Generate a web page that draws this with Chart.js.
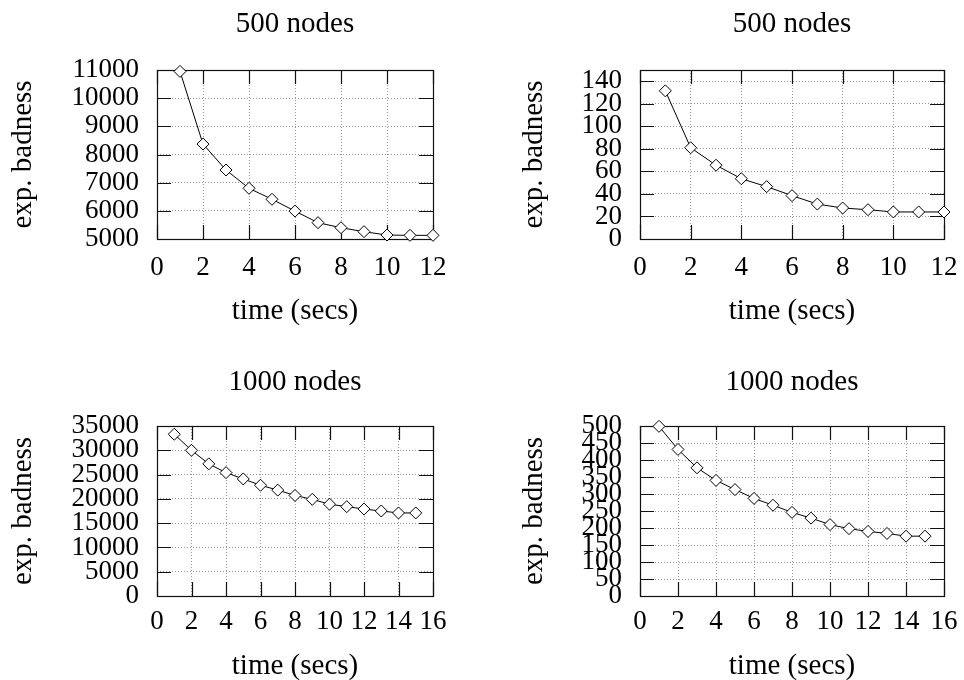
<!DOCTYPE html>
<html>
<head>
<meta charset="utf-8">
<script src="https://cdn.jsdelivr.net/npm/chart.js@4.4.0/dist/chart.umd.min.js"></script>
<style>
  body { margin: 0; background: #fff; width: 964px; height: 680px; overflow: hidden; position: relative; }
  canvas { position: absolute; }
</style>
</head>
<body>
<canvas id="c1" width="482" height="340" style="left:0;top:0"></canvas>
<canvas id="c2" width="482" height="340" style="left:482px;top:0"></canvas>
<canvas id="c3" width="482" height="340" style="left:0;top:340px"></canvas>
<canvas id="c4" width="482" height="340" style="left:482px;top:340px"></canvas>
<script>
// data
const times500 = [1, 2, 3, 4, 5, 6, 7, 8, 9, 10, 11, 12];
const times1000 = [1, 2, 3, 4, 5, 6, 7, 8, 9, 10, 11, 12, 13, 14, 15];

const badness500a = [10950, 8370, 7450, 6800, 6410, 5990, 5580, 5400, 5260, 5140, 5130, 5130];
const badness500b = [131.5, 81, 65.5, 53.5, 46.5, 38.5, 31, 27.5, 26, 24, 24, 24];
const badness1000a = [33300, 30000, 27200, 25400, 24100, 22800, 21800, 20700, 19900, 18900, 18400, 17900, 17500, 17100, 17100];
const badness1000b = [499, 431, 377, 340, 313, 287, 267, 246, 229, 210, 198, 190, 184, 176, 176];

const xTicks500 = [0, 2, 4, 6, 8, 10, 12];
const xTicks1000 = [0, 2, 4, 6, 8, 10, 12, 14, 16];
const yTicks500a = [5000, 6000, 7000, 8000, 9000, 10000, 11000];
const yTicks500b = [0, 20, 40, 60, 80, 100, 120, 140];
const yTicks1000a = [0, 5000, 10000, 15000, 20000, 25000, 30000, 35000];
const yTicks1000b = [0, 50, 100, 150, 200, 250, 300, 350, 400, 450, 500];

const F = "'Liberation Serif', 'DejaVu Serif', serif";
const TICK_LEN = 14;

// box round the plot with gnuplot-style inward tick marks
const framePlugin = {
  id: 'frame',
  beforeDatasetsDraw(chart) {
    const { ctx, chartArea: a, scales: { x, y } } = chart;
    ctx.save();
    ctx.strokeStyle = '#111';
    ctx.lineWidth = 1.2;
    ctx.beginPath();
    x.ticks.forEach(t => {
      const px = Math.round(x.getPixelForValue(t.value)) + 0.5;
      ctx.moveTo(px, a.bottom); ctx.lineTo(px, a.bottom - TICK_LEN);
      ctx.moveTo(px, a.top); ctx.lineTo(px, a.top + TICK_LEN);
    });
    y.ticks.forEach(t => {
      const py = Math.round(y.getPixelForValue(t.value)) + 0.5;
      ctx.moveTo(a.left, py); ctx.lineTo(a.left + TICK_LEN, py);
      ctx.moveTo(a.right, py); ctx.lineTo(a.right - TICK_LEN, py);
    });
    ctx.stroke();
    ctx.strokeRect(Math.round(a.left) + 0.5, Math.round(a.top) + 0.5, Math.round(a.width), Math.round(a.height));
    ctx.restore();
  }
};

function makeChart(id, title, xs, ys, xTicks, yTicks, xMax, yMin, yMax, lay) {
  const font = { family: F, size: 27, weight: 'normal', lineHeight: 1.2 };
  const titleFont = { family: F, size: 29, weight: 'normal', lineHeight: 1 };
  return new Chart(document.getElementById(id), {
    type: 'line',
    data: {
      datasets: [{
        data: xs.map((v, i) => ({ x: v, y: ys[i] })),
        clip: false,
        borderColor: '#000',
        borderWidth: 1,
        pointStyle: 'rectRot',
        pointRadius: 6,
        pointBackgroundColor: '#fff',
        pointBorderColor: '#000',
        pointBorderWidth: 1,
        tension: 0,
        fill: false
      }]
    },
    options: {
      responsive: false,
      animation: false,
      layout: { padding: { left: 0, right: lay.right, top: 0, bottom: 0 } },
      plugins: {
        legend: { display: false },
        tooltip: { enabled: false },
        title: {
          display: true, fullSize: false, text: title, color: '#000', font: titleFont,
          padding: { top: lay.titleTop, bottom: lay.titleBottom }
        }
      },
      scales: {
        x: {
          type: 'linear', min: 0, max: xMax,
          afterBuildTicks: s => { s.ticks = xTicks.map(v => ({ value: v })); },
          afterFit: s => { s.height = lay.xh; s.paddingLeft = 0; s.paddingRight = 0; },
          grid: { color: '#999', lineWidth: 1, drawTicks: false },
          border: { display: false, dash: [1, 2] },
          ticks: { autoSkip: false, maxRotation: 0, padding: lay.xtp, color: '#000', font: font, callback: v => v },
          title: { display: true, text: 'time (secs)', color: '#000', font: titleFont, padding: { top: 0, bottom: lay.xtb } }
        },
        y: {
          type: 'linear', min: yMin, max: yMax,
          afterBuildTicks: s => { s.ticks = yTicks.map(v => ({ value: v })); },
          afterFit: s => { s.width = lay.yw; s.paddingTop = 0; s.paddingBottom = 0; },
          grid: { color: '#999', lineWidth: 1, drawTicks: false },
          border: { display: false, dash: [1, 2] },
          ticks: { autoSkip: false, padding: 18, color: '#000', font: font, callback: v => v },
          title: { display: true, text: 'exp. badness', color: '#000', font: titleFont, padding: { top: lay.ytp, bottom: 0 } }
        }
      }
    },
    plugins: [framePlugin]
  });
}

const layTopL = { right: 49, titleTop: 9.5, titleBottom: 31.5, xh: 101, xtp: 13, xtb: 14.5, yw: 157, ytp: 8.5 };
const layTopR = { right: 20, titleTop: 9.5, titleBottom: 31.5, xh: 101, xtp: 13, xtb: 14.5, yw: 158, ytp: 37.5 };
const layBotL = { right: 49, titleTop: 27.5, titleBottom: 29.5, xh: 84, xtp: 10, xtb: -1, yw: 157, ytp: 8.5 };
const layBotR = { right: 20, titleTop: 27.5, titleBottom: 29.5, xh: 84, xtp: 10, xtb: -1, yw: 158, ytp: 37.5 };

makeChart('c1', '500 nodes', times500, badness500a, xTicks500, yTicks500a, 12, 5000, 11000, layTopL);
makeChart('c2', '500 nodes', times500, badness500b, xTicks500, yTicks500b, 12, 0, 150, layTopR);
makeChart('c3', '1000 nodes', times1000, badness1000a, xTicks1000, yTicks1000a, 16, 0, 35000, layBotL);
makeChart('c4', '1000 nodes', times1000, badness1000b, xTicks1000, yTicks1000b, 16, 0, 500, layBotR);
</script>
</body>
</html>
